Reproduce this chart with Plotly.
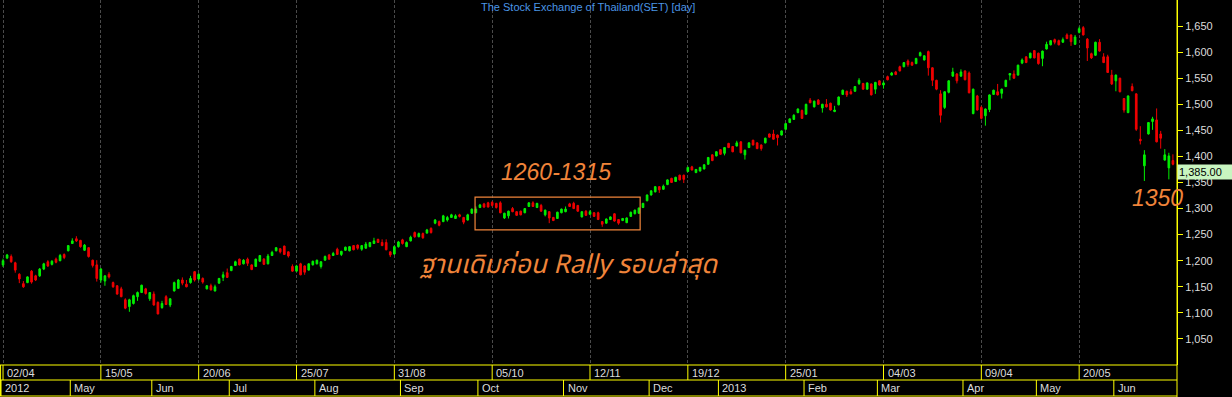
import plotly.graph_objects as go

# ---------------- data (SET index, daily) ----------------
OPEN = [
    1192, 1205, 1208, 1196, 1174, 1156, 1158, 1180, 1171, 1171, 1184, 1198, 1193, 1203, 1200, 1212, 1219, 1233, 1242, 1239, 1220, 1225, 1201, 1192,
    1163, 1161, 1174, 1158, 1152, 1146, 1125, 1112, 1118, 1131, 1139, 1146, 1127, 1136, 1120, 1110, 1131, 1115, 1142, 1147, 1163, 1155, 1158, 1179,
    1165, 1166, 1146, 1152, 1142, 1157, 1168, 1177, 1181, 1191, 1203, 1194, 1203, 1192, 1189, 1199, 1203, 1194, 1210, 1219, 1223, 1228, 1217, 1189,
    1180, 1194, 1190, 1182, 1192, 1194, 1189, 1201, 1211, 1210, 1222, 1212, 1220, 1219, 1229, 1230, 1222, 1224, 1227, 1233, 1241, 1235, 1235, 1217,
    1213, 1227, 1240, 1227, 1238, 1254, 1246, 1252, 1253, 1262, 1272, 1275, 1275, 1278, 1283, 1281, 1288, 1283, 1278, 1291, 1292, 1302, 1309, 1311,
    1312, 1310, 1311, 1282, 1286, 1300, 1294, 1295, 1292, 1304, 1311, 1302, 1306, 1288, 1294, 1283, 1281, 1292, 1294, 1309, 1310, 1306, 1284, 1295,
    1289, 1292, 1292, 1275, 1272, 1279, 1290, 1279, 1277, 1273, 1285, 1290, 1291, 1302, 1315, 1326, 1332, 1342, 1337, 1346, 1358, 1352, 1364, 1364,
    1371, 1380, 1369, 1372, 1376, 1385, 1403, 1401, 1413, 1406, 1425, 1419, 1420, 1428, 1403, 1417, 1431, 1426, 1422, 1426, 1443, 1443, 1441, 1441,
    1452, 1465, 1471, 1484, 1488, 1481, 1508, 1495, 1508, 1493, 1500, 1502, 1486, 1499, 1519, 1525, 1524, 1525, 1540, 1540, 1529, 1539, 1529, 1545,
    1537, 1553, 1556, 1562, 1572, 1572, 1583, 1580, 1578, 1593, 1585, 1601, 1570, 1546, 1520, 1494, 1523, 1554, 1558, 1554, 1564, 1560, 1482, 1516,
    1494, 1478, 1490, 1519, 1524, 1521, 1534, 1556, 1558, 1556, 1579, 1591, 1589, 1603, 1598, 1588, 1606, 1614, 1624, 1622, 1619, 1633, 1633, 1615,
    1638, 1647, 1625, 1597, 1594, 1619, 1591, 1591, 1556, 1545, 1550, 1511, 1484, 1534, 1520, 1433, 1382, 1443, 1467, 1470, 1443, 1393, 1378, 1392,
]
HIGH = [
    1204, 1213, 1212, 1198, 1176, 1161, 1170, 1182, 1173, 1186, 1196, 1201, 1201, 1206, 1213, 1214, 1230, 1243, 1247, 1240, 1232, 1226, 1202, 1201,
    1186, 1172, 1178, 1160, 1153, 1150, 1128, 1127, 1135, 1141, 1154, 1148, 1140, 1141, 1122, 1123, 1134, 1128, 1160, 1165, 1168, 1163, 1171, 1180,
    1176, 1168, 1153, 1156, 1154, 1167, 1179, 1185, 1190, 1200, 1204, 1203, 1206, 1193, 1204, 1211, 1205, 1213, 1219, 1226, 1224, 1229, 1218, 1193,
    1192, 1196, 1191, 1195, 1200, 1202, 1199, 1210, 1213, 1217, 1225, 1219, 1227, 1228, 1230, 1231, 1230, 1236, 1236, 1244, 1242, 1241, 1241, 1218,
    1229, 1238, 1242, 1237, 1248, 1256, 1254, 1254, 1261, 1264, 1280, 1277, 1288, 1286, 1290, 1289, 1290, 1284, 1290, 1300, 1304, 1309, 1311, 1313,
    1314, 1311, 1314, 1292, 1296, 1303, 1295, 1296, 1301, 1312, 1314, 1311, 1309, 1298, 1295, 1284, 1294, 1300, 1304, 1311, 1313, 1307, 1295, 1297,
    1297, 1293, 1294, 1276, 1281, 1285, 1291, 1280, 1282, 1283, 1294, 1298, 1302, 1311, 1327, 1335, 1343, 1343, 1346, 1356, 1359, 1361, 1365, 1365,
    1380, 1382, 1376, 1380, 1385, 1399, 1404, 1410, 1414, 1418, 1426, 1420, 1430, 1429, 1413, 1427, 1432, 1427, 1423, 1436, 1444, 1451, 1442, 1450,
    1464, 1473, 1481, 1492, 1490, 1501, 1512, 1507, 1510, 1501, 1510, 1503, 1497, 1515, 1528, 1526, 1529, 1535, 1550, 1541, 1542, 1540, 1543, 1546,
    1544, 1555, 1562, 1564, 1574, 1581, 1586, 1582, 1589, 1601, 1594, 1603, 1571, 1547, 1527, 1525, 1546, 1570, 1560, 1567, 1565, 1563, 1530, 1518,
    1497, 1492, 1519, 1528, 1539, 1530, 1547, 1560, 1565, 1576, 1588, 1592, 1599, 1604, 1599, 1603, 1620, 1623, 1626, 1624, 1628, 1636, 1634, 1633,
    1649, 1650, 1627, 1599, 1620, 1625, 1598, 1595, 1566, 1557, 1551, 1512, 1517, 1540, 1521, 1458, 1412, 1466, 1476, 1492, 1449, 1414, 1407, 1404,
]
LOW = [
    1188, 1203, 1196, 1177, 1157, 1148, 1157, 1156, 1161, 1169, 1182, 1188, 1191, 1195, 1199, 1203, 1218, 1232, 1236, 1225, 1219, 1206, 1187, 1160,
    1158, 1152, 1166, 1148, 1135, 1130, 1107, 1102, 1116, 1123, 1138, 1135, 1123, 1114, 1097, 1108, 1115, 1111, 1141, 1146, 1153, 1149, 1156, 1160,
    1162, 1156, 1145, 1143, 1141, 1156, 1161, 1167, 1180, 1190, 1191, 1193, 1190, 1182, 1188, 1198, 1192, 1193, 1209, 1218, 1214, 1211, 1206, 1179,
    1179, 1172, 1173, 1181, 1191, 1193, 1185, 1200, 1202, 1209, 1211, 1209, 1219, 1218, 1220, 1221, 1219, 1223, 1226, 1232, 1234, 1228, 1220, 1207,
    1211, 1225, 1231, 1226, 1237, 1244, 1245, 1242, 1252, 1252, 1270, 1266, 1274, 1275, 1282, 1280, 1283, 1270, 1277, 1290, 1291, 1301, 1301, 1302,
    1304, 1300, 1291, 1280, 1281, 1293, 1286, 1287, 1291, 1303, 1303, 1301, 1294, 1285, 1272, 1276, 1280, 1291, 1293, 1303, 1299, 1294, 1283, 1286,
    1288, 1284, 1278, 1265, 1271, 1278, 1275, 1269, 1276, 1272, 1284, 1289, 1290, 1301, 1314, 1325, 1331, 1330, 1336, 1345, 1349, 1351, 1354, 1349,
    1370, 1373, 1368, 1371, 1375, 1384, 1391, 1400, 1403, 1402, 1416, 1408, 1419, 1406, 1394, 1416, 1421, 1414, 1411, 1425, 1436, 1432, 1421, 1440,
    1451, 1464, 1470, 1483, 1472, 1480, 1502, 1494, 1499, 1484, 1494, 1488, 1485, 1498, 1518, 1514, 1519, 1524, 1537, 1528, 1528, 1517, 1520, 1536,
    1530, 1546, 1555, 1556, 1563, 1571, 1572, 1574, 1577, 1592, 1584, 1555, 1535, 1527, 1465, 1491, 1521, 1553, 1540, 1553, 1546, 1521, 1481, 1488,
    1471, 1459, 1485, 1518, 1517, 1511, 1533, 1546, 1549, 1555, 1577, 1579, 1588, 1588, 1576, 1573, 1605, 1613, 1615, 1613, 1618, 1625, 1612, 1614,
    1636, 1632, 1583, 1587, 1593, 1601, 1579, 1560, 1537, 1525, 1523, 1484, 1483, 1525, 1449, 1423, 1353, 1442, 1451, 1427, 1415, 1392, 1356, 1383,
]
CLOSE = [
    1200, 1211, 1198, 1182, 1165, 1150, 1169, 1159, 1163, 1184, 1194, 1190, 1199, 1197, 1210, 1206, 1229, 1238, 1238, 1227, 1230, 1208, 1191, 1166,
    1184, 1171, 1169, 1150, 1136, 1131, 1109, 1125, 1133, 1139, 1153, 1137, 1139, 1115, 1098, 1118, 1116, 1127, 1158, 1163, 1157, 1150, 1166, 1163,
    1174, 1159, 1152, 1144, 1150, 1166, 1173, 1168, 1189, 1198, 1192, 1201, 1195, 1183, 1203, 1210, 1193, 1209, 1216, 1225, 1217, 1212, 1209, 1180,
    1190, 1173, 1178, 1194, 1199, 1201, 1198, 1208, 1203, 1214, 1212, 1218, 1226, 1227, 1221, 1224, 1229, 1232, 1235, 1238, 1235, 1229, 1221, 1211,
    1227, 1236, 1233, 1235, 1245, 1246, 1252, 1244, 1259, 1254, 1278, 1268, 1286, 1283, 1288, 1286, 1285, 1274, 1288, 1299, 1299, 1307, 1303, 1303,
    1306, 1302, 1292, 1291, 1295, 1294, 1287, 1288, 1300, 1311, 1304, 1310, 1295, 1297, 1282, 1277, 1293, 1299, 1299, 1304, 1300, 1295, 1294, 1287,
    1294, 1285, 1279, 1270, 1280, 1284, 1276, 1272, 1281, 1282, 1293, 1297, 1301, 1310, 1326, 1334, 1342, 1336, 1343, 1355, 1350, 1360, 1355, 1356,
    1379, 1374, 1375, 1379, 1384, 1398, 1392, 1409, 1404, 1417, 1417, 1409, 1426, 1407, 1412, 1426, 1422, 1415, 1415, 1435, 1437, 1433, 1436, 1449,
    1463, 1472, 1479, 1491, 1473, 1500, 1503, 1506, 1500, 1500, 1495, 1489, 1489, 1514, 1527, 1518, 1520, 1534, 1546, 1529, 1541, 1518, 1542, 1537,
    1541, 1547, 1560, 1557, 1564, 1580, 1576, 1575, 1588, 1599, 1593, 1570, 1546, 1529, 1479, 1524, 1545, 1562, 1545, 1562, 1547, 1522, 1529, 1489,
    1473, 1491, 1518, 1527, 1518, 1529, 1546, 1559, 1550, 1575, 1585, 1580, 1598, 1589, 1578, 1602, 1615, 1622, 1619, 1614, 1624, 1626, 1620, 1629,
    1645, 1633, 1608, 1589, 1619, 1602, 1580, 1561, 1539, 1556, 1524, 1489, 1516, 1526, 1452, 1430, 1403, 1465, 1472, 1428, 1435, 1403, 1401, 1385,
]

DATE_LABELS = ["02/04", "15/05", "20/06", "25/07", "31/08", "05/10",
               "12/11", "19/12", "25/01", "04/03", "09/04", "20/05"]
DATE_IDX = [0, 24, 48, 72, 96, 120, 144, 168, 192, 216, 240, 264]
MONTH_LABELS = ["2012", "May", "Jun", "Jul", "Aug", "Sep", "Oct", "Nov",
                "Dec", "2013", "Feb", "Mar", "Apr", "May", "Jun"]
MONTH_IDX = [0, 17, 37, 56, 77, 98, 117, 138, 159, 176, 197, 215, 236, 254, 273]
Y_TICKS = [1050, 1100, 1150, 1200, 1250, 1300, 1350, 1400, 1450, 1500, 1550, 1600, 1650]
BOX_RANGE = (1260, 1315)
BOX_IDX = (115.8, 156.3)
SUPPORT = 1350

# ---------------- figure ----------------
YEL = "#ffff00"
TXT = "#dcdcdc"
ORANGE = "#f0843a"
FONT = "Liberation Sans, Arial, sans-serif"

x = list(range(len(CLOSE)))
fig = go.Figure(go.Candlestick(
    x=x, open=OPEN, high=HIGH, low=LOW, close=CLOSE,
    increasing=dict(line=dict(color="#00f000", width=1), fillcolor="#00f000"),
    decreasing=dict(line=dict(color="#f00000", width=1), fillcolor="#f00000"),
    whiskerwidth=0, showlegend=False, hoverinfo="skip",
))

R1 = -15 / 365   # boundary between date row and month row (paper coords)
R2 = -31 / 365   # bottom of month row

shapes = []
for yy in (0, R1, R2):
    shapes.append(dict(type="line", xref="paper", yref="paper", x0=0, x1=1, y0=yy, y1=yy,
                       line=dict(color=YEL, width=1)))
shapes.append(dict(type="line", xref="paper", yref="paper", x0=0.0005, x1=0.0005, y0=R2, y1=0,
                   line=dict(color=YEL, width=1)))
shapes.append(dict(type="line", xref="paper", yref="paper", x0=1, x1=1, y0=-0.1, y1=1,
                   line=dict(color=YEL, width=1)))
for i in DATE_IDX:
    shapes.append(dict(type="line", xref="x", yref="paper", x0=i, x1=i, y0=R1, y1=0,
                       line=dict(color=YEL, width=1)))
for i in MONTH_IDX:
    shapes.append(dict(type="line", xref="x", yref="paper", x0=i - 0.5, x1=i - 0.5, y0=R2, y1=R1,
                       line=dict(color=YEL, width=1)))
shapes.append(dict(type="rect", xref="x", yref="y", x0=BOX_IDX[0], x1=BOX_IDX[1],
                   y0=BOX_RANGE[0] - 1, y1=BOX_RANGE[1] + 7,
                   line=dict(color=ORANGE, width=1.2), fillcolor="rgba(0,0,0,0)"))

ann = []
for lab, i in zip(DATE_LABELS, DATE_IDX):
    ann.append(dict(x=i, xref="x", y=R1 / 2, yref="paper", text=lab, showarrow=False,
                    xanchor="left", yanchor="middle", xshift=2,
                    font=dict(family=FONT, size=11, color=TXT)))
for lab, i in zip(MONTH_LABELS, MONTH_IDX):
    ann.append(dict(x=i - 0.5, xref="x", y=(R1 + R2) / 2, yref="paper", text=lab, showarrow=False,
                    xanchor="left", yanchor="middle", xshift=2,
                    font=dict(family=FONT, size=11, color=TXT)))
ann.append(dict(x=0.4995, xref="paper", y=1, yref="paper", yanchor="top", yshift=1,
                text="The Stock Exchange of Thailand(SET) [day]", showarrow=False,
                font=dict(family=FONT, size=11, color="#4b96e6")))
ann.append(dict(x=1, xref="paper", xanchor="left", y=CLOSE[-1], yref="y", yanchor="top",
                text=f"{CLOSE[-1]:,.2f}", showarrow=False, bgcolor="#c8f5c0",
                font=dict(family=FONT, size=11, color="#000000"), borderpad=1, width=54, align="left"))
ann.append(dict(x=135.7, xref="x", y=1370, yref="y", text=f"<i>{BOX_RANGE[0]}-{BOX_RANGE[1]}</i>",
                showarrow=False, font=dict(family=FONT, size=23, color=ORANGE)))
ann.append(dict(x=138.8, xref="x", y=1191, yref="y", text="<i>ฐานเดิมก่อน Rally รอบล่าสุด</i>",
                showarrow=False,
                font=dict(family="Tahoma, Noto Sans Thai, DejaVu Sans, Liberation Sans, sans-serif",
                          size=26, color=ORANGE)))
ann.append(dict(x=283.2, xref="x", y=1320, yref="y", text=f"<i>{SUPPORT}</i>",
                showarrow=False, font=dict(family=FONT, size=23, color=ORANGE)))

fig.update_layout(
    width=1232, height=397,
    margin=dict(l=0, r=55, t=0, b=32),
    paper_bgcolor="#000000", plot_bgcolor="#000000",
    boxgap=0.42,
    shapes=shapes, annotations=ann,
    xaxis=dict(range=[-0.74, 288.0], rangeslider=dict(visible=False),
               tickvals=DATE_IDX, showticklabels=False, ticks="",
               showgrid=True, gridcolor="#4a4a4a", griddash="3px,2px", gridwidth=1,
               zeroline=False, showline=False),
    yaxis=dict(side="right", range=[1000, 1700], tickvals=Y_TICKS, tickformat=",d",
               ticks="outside", ticklen=5, tickcolor=YEL, showline=True, linecolor=YEL,
               linewidth=1, showgrid=False, zeroline=False,
               tickfont=dict(family=FONT, size=11, color=TXT)),
)

fig.write_html("out.html")
